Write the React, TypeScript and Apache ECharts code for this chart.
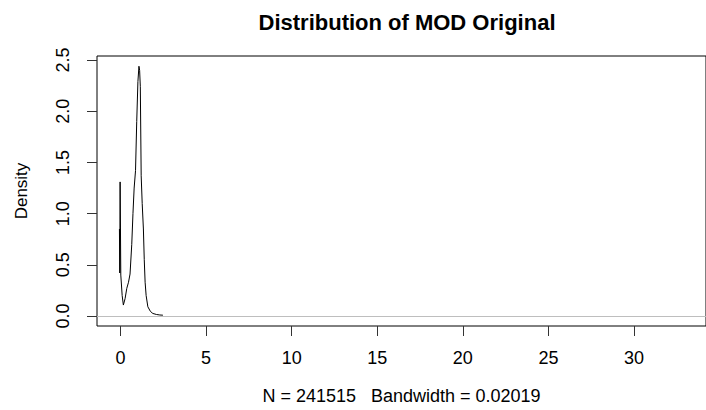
import React, { useEffect, useRef } from "react";
import * as echarts from "echarts";

const titleText = "Distribution of MOD Original";
const xAxisTitle = "N = 241515   Bandwidth = 0.02019";
const yAxisTitle = "Density";

const xTicks = [0, 5, 10, 15, 20, 25, 30];
const yTicks = [0, 0.5, 1.0, 1.5, 2.0, 2.5];

const densityX = [
  -0.06, -0.04, -0.02, 0.0, 0.02, 0.1, 0.17, 0.27, 0.37, 0.47, 0.56, 0.66, 0.73, 0.8, 0.88,
  0.95, 1.02, 1.08, 1.12, 1.16, 1.21, 1.27, 1.34, 1.39, 1.44, 1.5, 1.6, 1.75, 1.89, 2.1,
  2.3, 2.48,
];
const densityY = [
  0.85, 0.42, 1.31, 0.86, 0.4, 0.2, 0.107, 0.17, 0.27, 0.33, 0.41, 0.7, 1.0, 1.25, 1.42,
  1.9, 2.29, 2.44, 2.4, 2.24, 1.37, 1.1, 0.85, 0.55, 0.33, 0.2, 0.09, 0.045, 0.025, 0.015,
  0.01, 0.008,
];

const FONT = "'Liberation Sans', Arial, sans-serif";

export default function App() {
  const ref = useRef<HTMLDivElement>(null);
  useEffect(() => {
    if (!ref.current) return;
    const chart = echarts.init(ref.current, null, { renderer: "svg" });
    const data = densityX.map((x, i) => [x, densityY[i]]);
    chart.setOption({
      animation: false,
      backgroundColor: "#ffffff",
      title: {
        text: titleText,
        left: 402,
        top: 6,
        textAlign: "center",
        textStyle: { fontFamily: FONT, fontSize: 22, fontWeight: "bold", color: "#000" },
      },
      grid: {
        left: 97,
        top: 56,
        right: -9,
        bottom: 82,
        show: true,
        borderColor: "#000",
        borderWidth: 1,
        backgroundColor: "transparent",
      },
      xAxis: {
        type: "value",
        min: -1.37,
        max: 34.2,
        name: xAxisTitle,
        nameLocation: "middle",
        nameGap: 61,
        nameTextStyle: { fontFamily: FONT, fontSize: 18, color: "#000" },
        axisLine: { show: false, onZero: false },
        splitLine: { show: false },
        axisTick: { show: true, inside: false, length: 10, lineStyle: { color: "#333" }, customValues: xTicks },
        axisLabel: {
          fontFamily: FONT,
          fontSize: 18,
          color: "#000",
          margin: 23,
          customValues: xTicks,
          formatter: (v: number) => String(v),
        },
      },
      yAxis: {
        type: "value",
        min: -0.0976,
        max: 2.54,
        name: yAxisTitle,
        nameLocation: "middle",
        nameGap: 67,
        nameRotate: 90,
        nameTextStyle: { fontFamily: FONT, fontSize: 17, color: "#000" },
        axisLine: { show: false, onZero: false },
        splitLine: { show: false },
        axisTick: { show: true, inside: false, length: 10, lineStyle: { color: "#333" }, customValues: yTicks },
        axisLabel: {
          fontFamily: FONT,
          fontSize: 18,
          color: "#000",
          rotate: 90,
          margin: 25,
          customValues: yTicks,
          formatter: (v: number) => v.toFixed(1),
        },
      },
      series: [
        {
          type: "line",
          data,
          showSymbol: false,
          symbol: "none",
          lineStyle: { color: "#000", width: 1 },
          markLine: {
            silent: true,
            symbol: "none",
            label: { show: false },
            lineStyle: { color: "#bebebe", width: 1, type: "solid" },
            data: [{ yAxis: 0 }],
          },
        },
      ],
    });
    return () => chart.dispose();
  }, []);
  return (
    <div
      ref={ref}
      style={{ position: "fixed", left: 0, top: 0, width: 706, height: 410, background: "#fff" }}
    />
  );
}
